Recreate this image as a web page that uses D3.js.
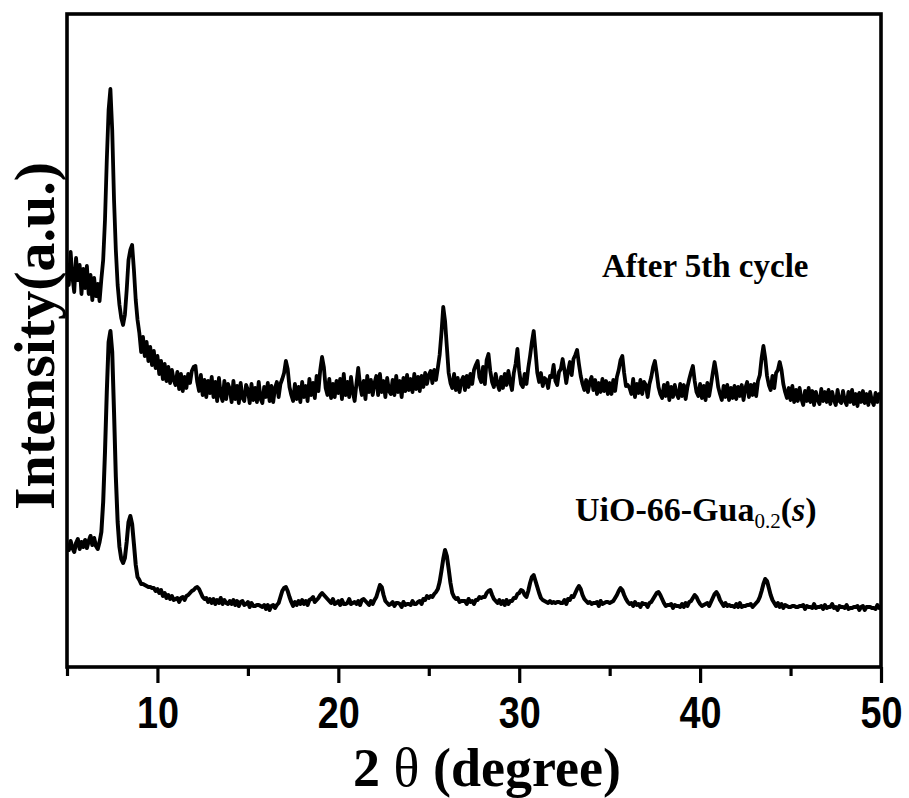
<!DOCTYPE html>
<html>
<head>
<meta charset="utf-8">
<script src="https://cdn.jsdelivr.net/npm/d3@7"></script>
<style>
  body { margin: 0; background: #fff; }
  svg { display: block; }
</style>
</head>
<body>
<script>
// Scan grid (2θ, degrees)
const angleStart = 5;
const angleStep = 0.1;

// Axis ticks
const xTicks = [10, 20, 30, 40, 50];
const xMinorTicks = [5, 15, 25, 35, 45];

// UiO-66-Gua0.2(s), as synthesised (counts), 5.0° … 50.0°
const pristine = [
  1220,1170,1260,1190,1150,1240,1280,1180,1250,1200,
  1270,1190,1260,1310,1220,1290,1210,1180,1250,1350,
  1650,2150,2750,3250,3360,3150,2550,1900,1450,1200,
  1080,1040,1090,1250,1450,1510,1430,1230,1020,900,
  870,830,830,820,810,800,800,790,790,760,
  780,740,770,710,740,690,720,680,710,670,
  680,690,650,690,700,670,710,720,740,760,
  770,790,800,780,740,700,680,690,650,680,
  640,680,630,670,640,690,630,670,640,630,
  660,630,670,620,660,610,650,660,620,630,
  650,600,640,610,610,620,620,610,600,620,
  580,620,570,610,620,590,620,640,700,760,
  790,800,760,700,650,610,650,620,660,630,
  670,630,660,620,670,680,700,650,670,690,
  720,740,720,700,680,660,640,680,630,640,
  660,620,670,630,630,640,680,630,640,650,
  630,660,620,670,680,660,640,620,660,630,
  670,700,760,820,800,720,660,640,620,630,
  650,610,640,640,630,600,650,620,630,630,
  620,660,630,630,650,660,630,680,670,710,
  690,710,700,730,750,780,850,960,1080,1170,
  1110,980,840,740,700,680,690,650,660,660,
  660,630,680,650,660,630,670,670,700,690,
  700,700,740,760,770,720,680,660,640,670,
  630,660,620,670,630,660,660,690,690,730,
  740,770,760,720,700,760,840,900,920,860,
  800,740,690,670,660,650,640,660,640,650,
  640,650,650,640,640,670,630,680,670,710,
  700,740,780,810,780,720,680,660,640,650,
  630,640,640,650,610,660,630,640,650,650,
  640,650,660,690,720,760,790,770,720,680,
  650,630,640,610,650,620,630,600,640,630,
  630,600,640,650,680,710,740,750,720,680,
  640,610,620,620,630,590,620,610,610,600,
  630,600,640,610,650,660,690,720,700,660,
  630,610,620,630,640,610,650,690,730,750,
  720,670,640,610,640,610,620,610,610,600,
  630,600,640,600,610,610,620,620,630,600,
  620,640,660,700,760,830,880,860,790,720,
  670,640,610,640,600,630,590,620,610,600,
  600,610,610,600,600,610,610,620,580,610,
  600,600,590,630,590,600,600,610,580,620,
  590,600,600,630,590,600,570,610,600,600,
  590,620,580,590,590,600,600,610,570,600,
  610,570,600,600,600,590,590,580,620,590,
  600
];

// After 5th cycle (counts), 5.0° … 50.0°
const recycled = [
  2040,1820,2150,1900,1750,2090,1870,2020,1730,1980,
  1790,2010,1730,1920,1670,1890,1710,1830,1660,1880,
  2070,2470,3070,3570,3780,3370,2670,2170,1820,1620,
  1490,1420,1520,1770,2070,2170,2220,1970,1670,1470,
  1340,1150,1300,1110,1250,1060,1200,1020,1160,990,
  1110,930,1060,880,1030,860,1000,840,970,870,
  820,950,780,930,760,900,790,930,840,960,
  1000,1010,850,760,920,720,870,700,860,740,
  900,700,850,660,890,720,660,860,680,830,
  780,650,860,680,810,640,840,690,660,820,
  770,640,830,670,790,650,850,680,640,800,
  700,840,660,810,650,790,850,700,830,880,
  940,1060,980,800,720,660,830,680,800,650,
  850,700,810,660,880,720,840,690,910,760,
  970,1100,1000,790,720,880,690,830,700,860,
  740,880,680,930,720,850,700,900,750,660,
  830,990,820,720,860,680,910,750,870,720,
  840,910,720,930,750,860,700,890,760,730,
  870,720,910,750,860,700,890,760,920,770,
  880,750,930,780,900,760,910,800,940,830,
  920,960,840,970,870,990,1120,1340,1600,1460,
  1200,940,840,790,930,770,890,750,860,900,
  770,910,800,930,830,970,1020,1060,900,850,
  1000,830,1070,1130,960,850,800,930,830,770,
  900,790,930,820,960,850,770,940,1030,1180,
  960,830,800,930,830,990,1110,1250,1360,1160,
  940,850,940,810,890,870,790,910,900,1020,
  860,820,950,980,1080,970,840,960,1050,920,
  1080,1120,1170,1030,910,830,770,870,750,850,
  900,770,870,730,840,750,880,760,860,730,
  840,730,870,760,900,970,1070,1110,940,810,
  820,790,730,880,700,830,740,870,730,850,
  820,700,830,900,1000,1060,940,800,730,690,
  820,710,840,670,800,700,820,730,690,830,
  710,820,680,800,880,950,1010,860,750,710,
  830,690,810,670,840,710,820,940,1050,940,
  800,730,670,810,700,820,670,790,690,810,
  680,800,710,820,670,790,850,700,820,720,
  830,710,860,920,1090,1210,1090,910,820,770,
  910,790,940,970,1050,970,830,750,690,790,
  670,810,650,770,660,790,680,620,760,660,
  790,650,760,620,750,670,630,780,660,750,
  650,770,630,750,670,620,770,660,640,760,
  660,620,750,650,770,630,730,610,740,650,
  760,640,730,620,750,660,620,740,650,730,
  720
];

// Vertical stacking offset for the cycled sample
const recycledOffset = 2000;

const W = 909, H = 798;
const plot = { left: 67, right: 881, top: 14, bottom: 667 };

const svg = d3.select("body").append("svg")
  .attr("width", W).attr("height", H);

const x = d3.scaleLinear().domain([5, 50]).range([plot.left, plot.right]);
const y = d3.scaleLinear().domain([0, 6530]).range([plot.bottom, plot.top]);

svg.append("defs").append("clipPath").attr("id", "plot-clip")
  .append("rect")
  .attr("x", plot.left).attr("y", plot.top)
  .attr("width", plot.right - plot.left).attr("height", plot.bottom - plot.top);

const angle = i => angleStart + i * angleStep;

const lineFor = offset => d3.line()
  .x((d, i) => x(angle(i)))
  .y(d => y(d + offset));

const traces = svg.append("g").attr("clip-path", "url(#plot-clip)");

traces.append("path")
  .datum(pristine)
  .attr("d", lineFor(0))
  .attr("fill", "none")
  .attr("stroke", "#000")
  .attr("stroke-width", 4)
  .attr("stroke-linejoin", "round");

traces.append("path")
  .datum(recycled)
  .attr("d", lineFor(recycledOffset))
  .attr("fill", "none")
  .attr("stroke", "#000")
  .attr("stroke-width", 3.8)
  .attr("stroke-linejoin", "round");

// Minor ticks on the 2θ axis
const minorAxis = svg.append("g")
  .attr("transform", `translate(0,${plot.bottom})`)
  .call(d3.axisBottom(x).tickValues(xMinorTicks).tickSize(9).tickFormat(""));
minorAxis.select(".domain").remove();
minorAxis.selectAll("line").attr("stroke", "#000").attr("stroke-width", 3.2);

// Major ticks and labels
const majorAxis = svg.append("g")
  .attr("transform", `translate(0,${plot.bottom})`)
  .call(d3.axisBottom(x).tickValues(xTicks).tickSize(16).tickPadding(14).tickFormat(d3.format("d")));
majorAxis.select(".domain").remove();
majorAxis.selectAll("line").attr("stroke", "#000").attr("stroke-width", 3.2);
majorAxis.selectAll("text")
  .attr("fill", "#000")
  .style("font-family", "'Liberation Sans', Arial, sans-serif")
  .style("font-weight", "bold")
  .style("font-size", "44px")
  .attr("transform", "scale(0.86,1)");

// Frame
svg.append("rect")
  .attr("x", plot.left).attr("y", plot.top)
  .attr("width", plot.right - plot.left).attr("height", plot.bottom - plot.top)
  .attr("fill", "none").attr("stroke", "#000").attr("stroke-width", 3.6);

// Axis titles
const serif = "'Liberation Serif', 'Times New Roman', serif";

const xTitle = svg.append("text")
  .attr("x", 487).attr("y", 786)
  .attr("text-anchor", "middle")
  .style("font-family", serif)
  .style("font-weight", "bold")
  .style("font-size", "54px");
xTitle.append("tspan").text("2 ");
xTitle.append("tspan").style("font-weight", "normal").text("θ");
xTitle.append("tspan").text(" (degree)");

svg.append("text")
  .attr("transform", "translate(54,336) rotate(-90)")
  .attr("text-anchor", "middle")
  .style("font-family", serif)
  .style("font-weight", "bold")
  .style("font-size", "58px")
  .text("Intensity(a.u.)");

// Trace labels
svg.append("text")
  .attr("x", 602).attr("y", 277)
  .style("font-family", serif).style("font-weight", "bold").style("font-size", "33px")
  .text("After 5th cycle");

const lbl = svg.append("text")
  .attr("x", 575).attr("y", 521)
  .style("font-family", serif).style("font-weight", "bold").style("font-size", "34px");
lbl.append("tspan").text("UiO-66-Gua");
lbl.append("tspan").attr("dy", 7).style("font-size", "21px").style("font-weight", "normal").text("0.2");
lbl.append("tspan").attr("dy", -7).text("(");
lbl.append("tspan").style("font-style", "italic").text("s");
lbl.append("tspan").text(")");
</script>
</body>
</html>
